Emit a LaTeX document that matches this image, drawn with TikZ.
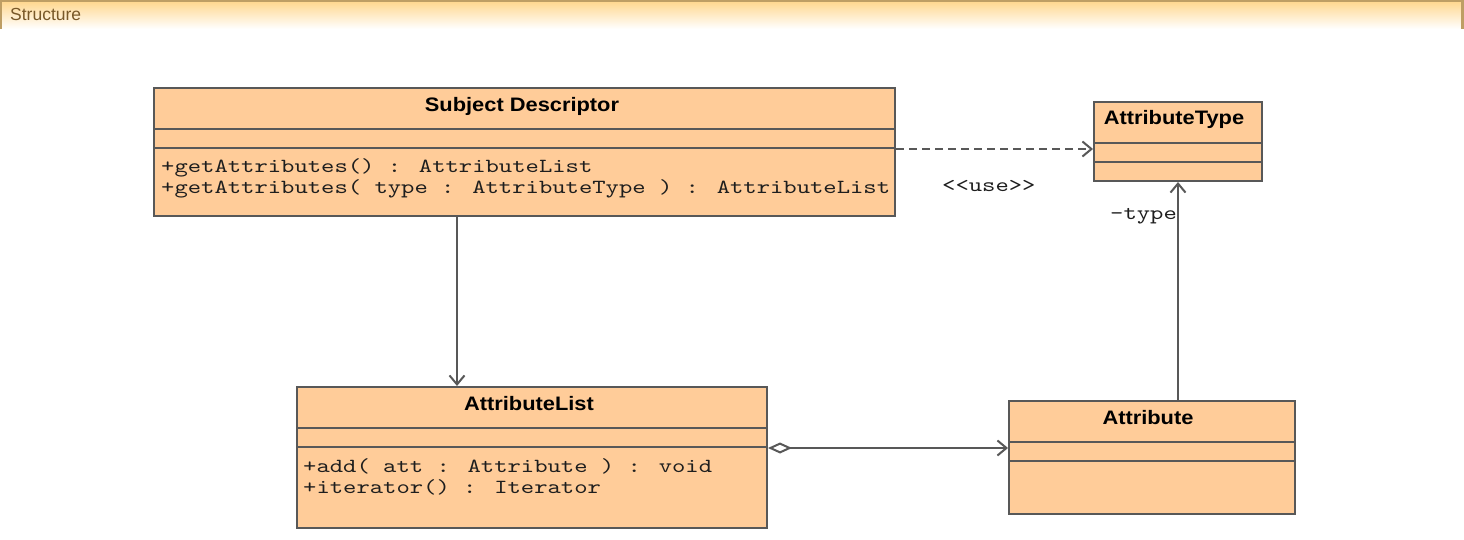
\documentclass[tikz,border=0pt]{standalone}
\usepackage{fontspec}
\usetikzlibrary{arrows.meta,shapes.geometric}
\newfontfamily\umlsans[FakeStretch=1.12]{Liberation Sans}
\newfontfamily\umlmono[Extension=.otf,FakeStretch=1.27]{lmmono10-regular}
\newfontfamily\hdrsans{Liberation Sans}
\definecolor{umlfill}{RGB}{255,204,153}
\definecolor{umlline}{RGB}{88,88,88}
\definecolor{hdrtop}{RGB}{255,216,145}
\definecolor{hdrline}{RGB}{190,158,100}
\definecolor{hdrtext}{RGB}{120,88,40}
\definecolor{monotext}{RGB}{30,30,30}
\tikzset{
  classbox/.style={draw=umlline, fill=umlfill, line width=2pt, inner sep=0pt, anchor=north west},
  sepline/.style={draw=umlline, line width=2pt},
  classname/.style={anchor=base, inner sep=0pt, font=\umlsans\bfseries\fontsize{19.5}{22}\selectfont},
  ops/.style={anchor=base west, inner sep=0pt, text=monotext, font=\umlmono\fontsize{20}{21}\selectfont},
  lbl/.style={anchor=base west, inner sep=0pt, text=monotext, font=\umlmono\fontsize{20}{21}\selectfont},
  conn/.style={draw=umlline, line width=2pt},
  openarrow/.style={conn, -{Straight Barb[length=9pt,width=15pt,line width=2pt]}},
  usearrow/.style={openarrow, dash pattern=on 8pt off 5pt},
  aggr/.style={conn, {Diamond[open,length=24pt,width=11pt,line width=2pt,fill=white]}-{Straight Barb[length=9pt,width=15pt,line width=2pt]}}
}
\begin{document}
\begin{tikzpicture}[x=1pt,y=-1pt]
\useasboundingbox (0,0) rectangle (1464,540);
% header bar
\shade[top color=hdrtop, bottom color=white] (2,2) rectangle (1461,29);
\draw[hdrline, line width=2.5pt] (0,1.2) -- (1464,1.2);
\draw[hdrline, line width=2.5pt] (1.2,0) -- (1.2,29);
\draw[hdrline, line width=2.5pt] (1462.5,0) -- (1462.5,29);
\node[anchor=base west, inner sep=0pt, text=hdrtext, font=\hdrsans\fontsize{17.5}{20}\selectfont] (hdr) at (10,21) {Structure};

% Subject Descriptor
\node[classbox, minimum width=741pt, minimum height=128pt] (sd) at (153,87) {};
\draw[sepline] (153,129) -- (894,129);
\draw[sepline] (153,148) -- (894,148);
\node[classname] (sdname) at (522,112) {Subject Descriptor};
\node[ops] (sdop1) at (161,172.5) {+getAttributes() : AttributeList};
\node[ops] (sdop2) at (161,193.5) {+getAttributes( type : AttributeType ) : AttributeList};

% AttributeType
\node[classbox, minimum width=168pt, minimum height=79pt] (at) at (1093,101) {};
\draw[sepline] (1093,143) -- (1261,143);
\draw[sepline] (1093,162) -- (1261,162);
\node[classname] (atname) at (1174,125) {AttributeType};

% AttributeList
\node[classbox, minimum width=470pt, minimum height=141pt] (al) at (296,386) {};
\draw[sepline] (296,428) -- (766,428);
\draw[sepline] (296,447) -- (766,447);
\node[classname] (alname) at (529,410) {AttributeList};
\node[ops] (alop1) at (303,472.5) {+add( att : Attribute ) : void};
\node[ops] (alop2) at (303,493.5) {+iterator() : Iterator};

% Attribute
\node[classbox, minimum width=286pt, minimum height=113pt] (attr) at (1008,400) {};
\draw[sepline] (1008,442) -- (1294,442);
\draw[sepline] (1008,461) -- (1294,461);
\node[classname] (attrname) at (1148,424) {Attribute};

% connectors
\coordinate (cx1) at (457,0);
\coordinate (cy2) at (0,149);
\coordinate (cy3) at (0,448);
\coordinate (cx4) at (1178,0);
\draw[openarrow] (sd.south -| cx1) -- (al.north -| cx1);
\draw[usearrow] (sd.east |- cy2) -- (at.west |- cy2);
\draw[aggr] (al.east |- cy3) -- (attr.west |- cy3);
\draw[openarrow] (attr.north -| cx4) -- (at.south -| cx4);

% labels
\node[lbl] (uselbl) at (942,192) {\textless\textless use\textgreater\textgreater};
\node[lbl] (typelbl) at (1110,220) {-type};
\end{tikzpicture}
\end{document}
